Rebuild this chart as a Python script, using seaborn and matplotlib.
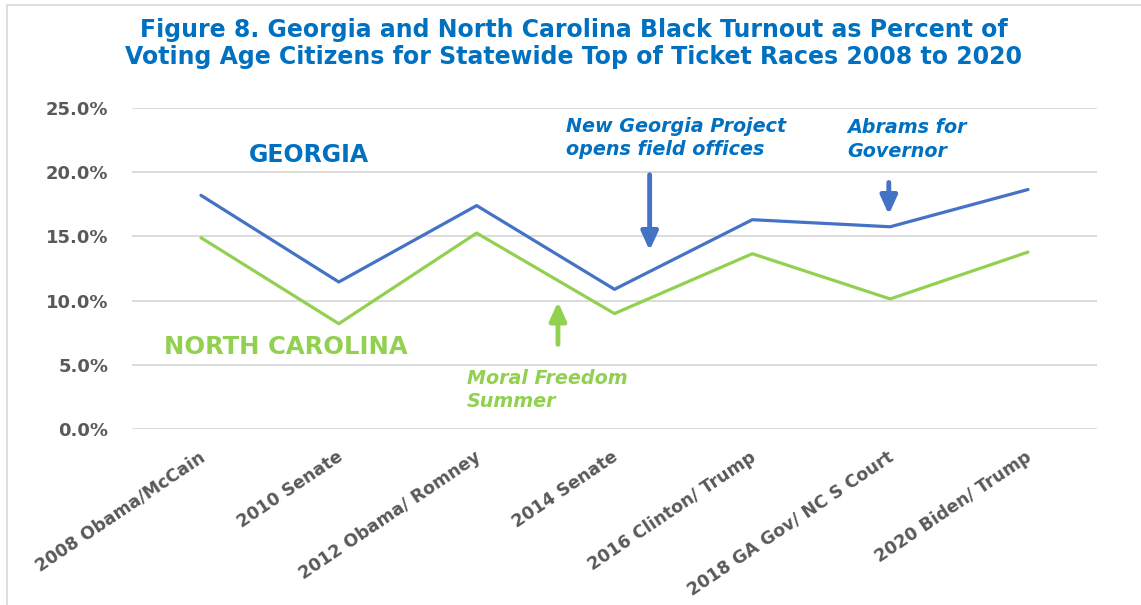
import matplotlib
matplotlib.use("Agg")
import matplotlib.pyplot as plt
import matplotlib.transforms as mtransforms
import seaborn as sns
import pandas as pd
from matplotlib.ticker import PercentFormatter
from matplotlib.lines import Line2D

# data
races = ["2008 Obama/McCain", "2010 Senate", "2012 Obama/ Romney", "2014 Senate",
         "2016 Clinton/ Trump", "2018 GA Gov/ NC S Court", "2020 Biden/ Trump"]
georgia = [0.182, 0.1145, 0.174, 0.1088, 0.163, 0.1575, 0.1865]
north_carolina = [0.149, 0.082, 0.1526, 0.0899, 0.1365, 0.1013, 0.1378]
y_ticks = [0.0, 0.05, 0.10, 0.15, 0.20, 0.25]

BLUE = "#4472C4"
GREEN = "#92D050"
TITLE_BLUE = "#0070C0"
GREY = "#595959"

df = pd.DataFrame({
    "race": races * 2,
    "pos": list(range(len(races))) * 2,
    "turnout": georgia + north_carolina,
    "state": ["Georgia"] * len(races) + ["North Carolina"] * len(races),
})

sns.set_style("white")
plt.rcParams["font.family"] = ["DejaVu Sans"]

fig = plt.figure(figsize=(11.41, 6.05), dpi=100)
ax = fig.add_axes([0.1157, 0.2909, 0.9614 - 0.1157, 0.8215 - 0.2909])

sns.lineplot(data=df, x="pos", y="turnout", hue="state",
             palette={"Georgia": BLUE, "North Carolina": GREEN},
             linewidth=2.3, legend=False, ax=ax)

ax.set_xlim(-0.5, len(races) - 0.5)
ax.set_ylim(0, 0.25)
ax.set_yticks(y_ticks)
ax.yaxis.set_major_formatter(PercentFormatter(1.0, decimals=1))
ax.set_xticks(range(len(races)))
ax.set_xticklabels(races, rotation=34, ha="right", va="center",
                   rotation_mode="anchor")
ax.grid(axis="y", color="#D9D9D9", linewidth=1.3)
ax.set_axisbelow(True)
for s in ax.spines.values():
    s.set_visible(False)
ax.tick_params(axis="both", length=0, colors=GREY)
ax.tick_params(axis="y", pad=17)
ax.tick_params(axis="x", pad=19)
shift = mtransforms.ScaledTranslation(2 / 100, 0, fig.dpi_scale_trans)
for lbl in ax.get_yticklabels():
    lbl.set_fontsize(13)
    lbl.set_fontweight("bold")
for lbl in ax.get_xticklabels():
    lbl.set_fontsize(12.5)
    lbl.set_fontweight("bold")
    lbl.set_transform(lbl.get_transform() + shift)
ax.set_xlabel("")
ax.set_ylabel("")

# title
fig.text(0.503, 0.928, "Figure 8. Georgia and North Carolina Black Turnout as Percent of\n"
         "Voting Age Citizens for Statewide Top of Ticket Races 2008 to 2020",
         ha="center", va="center", fontsize=17, fontweight="bold",
         color=TITLE_BLUE, linespacing=1.13)

# series labels
ax.text(0.35, 0.2135, "GEORGIA", color=TITLE_BLUE, fontsize=17, fontweight="bold",
        ha="left", va="center")
ax.text(-0.27, 0.064, "NORTH CAROLINA", color=GREEN, fontsize=17.5, fontweight="bold",
        ha="left", va="center")

# annotations
ax.text(2.65, 0.2266, "New Georgia Project\nopens field offices", color=TITLE_BLUE,
        fontsize=13.8, fontweight="bold", style="italic", ha="left", va="center",
        linespacing=1.3)
ax.text(4.69, 0.2255, "Abrams for\nGovernor", color=TITLE_BLUE,
        fontsize=13.8, fontweight="bold", style="italic", ha="left", va="center",
        linespacing=1.3)
ax.text(1.93, 0.0304, "Moral Freedom\nSummer", color=GREEN,
        fontsize=13.8, fontweight="bold", style="italic", ha="left", va="center",
        linespacing=1.3)

arrow = dict(arrowstyle="-|>,head_length=0.55,head_width=0.25", lw=3.5,
             mutation_scale=20, shrinkA=0, shrinkB=0)
ax.annotate("", xy=(3.255, 0.139), xytext=(3.255, 0.198),
            arrowprops=dict(color=BLUE, **arrow))
ax.annotate("", xy=(4.99, 0.167), xytext=(4.99, 0.192),
            arrowprops=dict(color=BLUE, **arrow))
ax.annotate("", xy=(2.59, 0.099), xytext=(2.59, 0.066),
            arrowprops=dict(color=GREEN, **arrow))

# chart border (top and left edges visible)
fig.add_artist(Line2D([0.006, 1.0], [0.992, 0.992], transform=fig.transFigure,
                      color="#D9D9D9", lw=1.2))
fig.add_artist(Line2D([0.006, 0.006], [0.0, 0.992], transform=fig.transFigure,
                      color="#D9D9D9", lw=1.2))

fig.savefig("out.png", dpi=100)
